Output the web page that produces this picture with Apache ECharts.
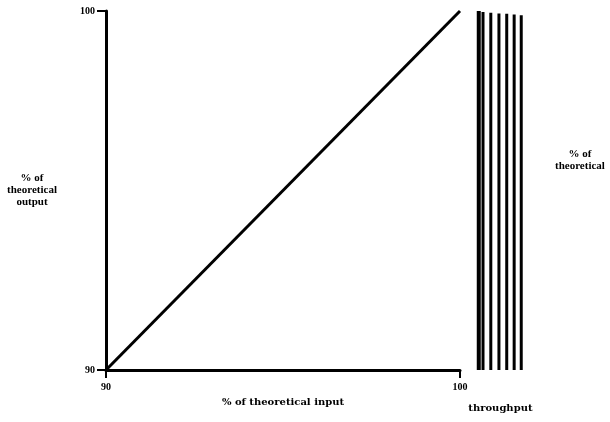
<!DOCTYPE html>
<html>
<head>
<meta charset="utf-8">
<script src="https://cdn.jsdelivr.net/npm/echarts@6/dist/echarts.min.js"></script>
<style>
  html, body { margin: 0; padding: 0; background: #fff; }
  #chart { width: 610px; height: 422px; }
</style>
</head>
<body>
<div id="chart"></div>
<script>
// theoretical input vs output (straight 1:1 line)
const inputPct = [90, 100]
const outputPct = [90, 100]
// throughput bars on the right
const throughputX = [100.53, 100.65, 100.87, 101.1, 101.32, 101.53, 101.73]
const throughputTop = [100, 99.97, 99.95, 99.93, 99.92, 99.9, 99.88]
const throughputBottom = 90

const txt = { color: '#000', fontFamily: 'Liberation Serif', fontWeight: 'bold', fontSize: 10 }
const nameTxt = { color: '#000', fontFamily: 'DejaVu Serif', fontWeight: 'bold', fontSize: 10 }

const throughputSeries = throughputX.map((x, i) => {
  return {
    type: 'line',
    xAxisIndex: 1,
    yAxisIndex: 1,
    symbol: 'none',
    lineStyle: { color: '#000', width: i === 0 ? 4 : 3 },
    data: [[x, throughputBottom], [x, throughputTop[i]]]
  }
})

let option = {
  animation: false,
  backgroundColor: '#fff',
  grid: [
    { left: 106, top: 11, width: 354, height: 359 },
    { left: 460, top: 11, width: 70.8, height: 359 }
  ],
  // right hand label sits above the middle, so it goes in as plain text
  graphic: [
    {
      type: 'text',
      left: 555,
      top: 148,
      style: {
        text: '% of\ntheoretical',
        align: 'center',
        fill: '#000',
        font: 'bold 11px "Liberation Serif"',
        lineHeight: 12,
        textAlign: 'center'
      }
    }
  ],
  xAxis: [
    {
      gridIndex: 0,
      type: 'value',
      min: 90,
      max: 100,
      interval: 10,
      name: '% of theoretical input',
      nameLocation: 'middle',
      nameGap: 27,
      nameTextStyle: Object.assign({}, nameTxt),
      axisLine: { lineStyle: { color: '#000', width: 3 } },
      axisTick: { length: 8, lineStyle: { color: '#000', width: 2 } },
      axisLabel: Object.assign({ margin: 12 }, txt),
      splitLine: { show: false }
    },
    {
      gridIndex: 1,
      type: 'value',
      min: 100,
      max: 102,
      name: 'throughput',
      nameLocation: 'middle',
      nameGap: 33,
      nameTextStyle: Object.assign({ padding: [0, 0, 0, 10] }, nameTxt),
      axisLine: { show: false },
      axisTick: { show: false },
      axisLabel: { show: false },
      splitLine: { show: false }
    }
  ],
  yAxis: [
    {
      gridIndex: 0,
      type: 'value',
      min: 90,
      max: 100,
      interval: 10,
      name: '% of\ntheoretical\noutput',
      nameLocation: 'middle',
      nameRotate: 0,
      nameGap: 74,
      nameTextStyle: Object.assign({ align: 'center', lineHeight: 12, padding: [8, 0, 0, 0] }, txt, { fontSize: 11 }),
      axisLine: { lineStyle: { color: '#000', width: 3 } },
      axisTick: { length: 9, lineStyle: { color: '#000', width: 2 } },
      axisLabel: Object.assign({ margin: 11 }, txt),
      splitLine: { show: false }
    },
    {
      gridIndex: 1,
      type: 'value',
      position: 'right',
      min: 90,
      max: 100,
      axisLine: { show: false },
      axisTick: { show: false },
      axisLabel: { show: false },
      splitLine: { show: false }
    }
  ],
  series: [
    {
      type: 'line',
      symbol: 'none',
      lineStyle: { color: '#000', width: 3 },
      data: inputPct.map((v, i) => [v, outputPct[i]])
    }
  ].concat(throughputSeries)
}

const myChart = echarts.init(document.getElementById('chart'))
myChart.setOption(option, true)
</script>
</body>
</html>
